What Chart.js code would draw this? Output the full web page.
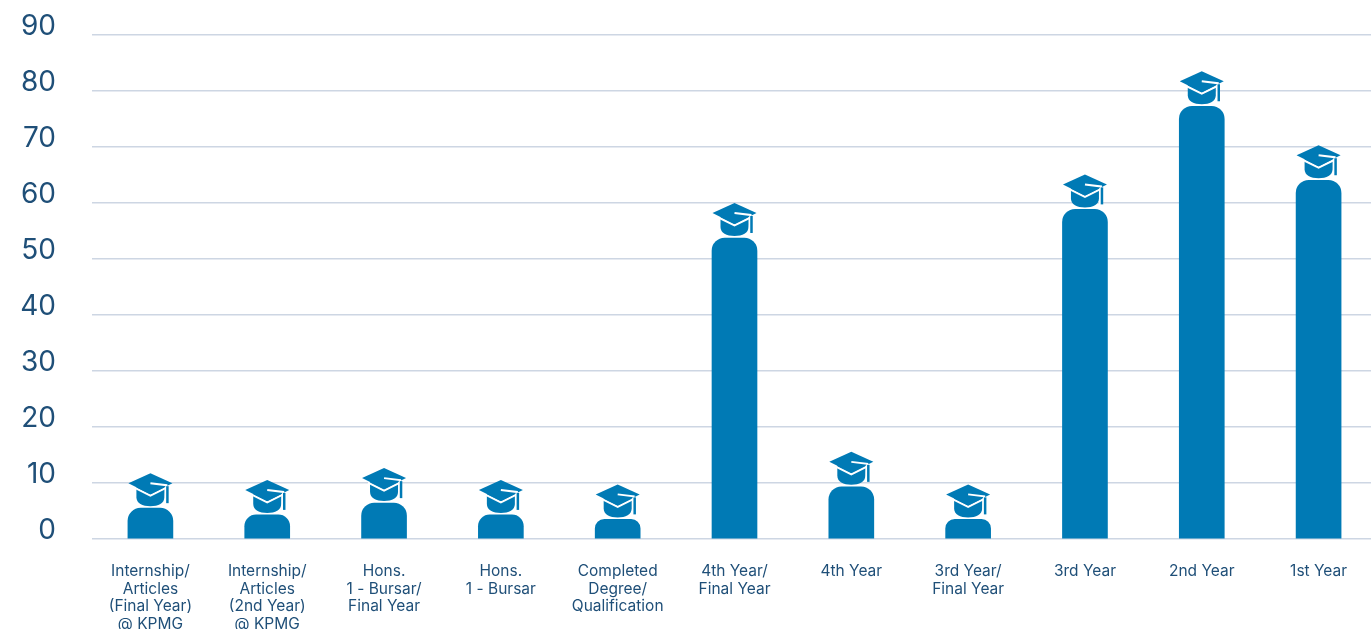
<!DOCTYPE html>
<html>
<head>
<meta charset="utf-8">
<style>
  html, body { margin: 0; padding: 0; background: #fff; overflow: hidden; }
  #wrap { position: relative; width: 1400px; height: 629px; }
</style>
<script src="https://cdn.jsdelivr.net/npm/chart.js@4"></script>
</head>
<body>
<div id="wrap"><canvas id="chart"></canvas></div>
<script>
const categories = [
  ['Internship/', 'Articles', '(Final Year)', '@ KPMG'],
  ['Internship/', 'Articles', '(2nd Year)', '@ KPMG'],
  ['Hons.', '1 - Bursar/', 'Final Year'],
  ['Hons.', '1 - Bursar'],
  ['Completed', 'Degree/', 'Qualification'],
  ['4th Year/', 'Final Year'],
  ['4th Year'],
  ['3rd Year/', 'Final Year'],
  ['3rd Year'],
  ['2nd Year'],
  ['1st Year']
];
const students = [5.5, 4.3, 6.4, 4.3, 3.5, 53.7, 9.3, 3.5, 58.8, 77.2, 64];

const BLUE = '#007ab5';
const TEXT = '#1f4f78';

// Graduation cap sitting above each bar
const capPlugin = {
  id: 'caps',
  afterDatasetsDraw(chart) {
    const c = chart.ctx;
    chart.getDatasetMeta(0).data.forEach(function(bar) {
      c.save();
      c.translate(bar.x, bar.y);

      // head under the cap
      c.fillStyle = BLUE;
      c.beginPath();
      c.moveTo(-14, -22);
      c.lineTo(-14, -11);
      c.bezierCurveTo(-14, -5, -8, -2, 0, -2);
      c.bezierCurveTo(8, -2, 14, -5, 14, -11);
      c.lineTo(14, -22);
      c.closePath();
      c.fill();

      // white edge between head and board
      c.strokeStyle = '#fff';
      c.lineWidth = 2;
      c.beginPath();
      c.moveTo(-16, -20.5);
      c.lineTo(0, -12.5);
      c.lineTo(16, -20.5);
      c.stroke();

      // board
      c.fillStyle = BLUE;
      c.beginPath();
      c.moveTo(0, -35);
      c.lineTo(22, -25);
      c.lineTo(0, -14);
      c.lineTo(-22, -25);
      c.closePath();
      c.fill();

      // cord across the board, then the tassel hanging past the head
      c.strokeStyle = '#fff';
      c.lineWidth = 2;
      c.beginPath();
      c.moveTo(0, -25);
      c.lineTo(16, -23);
      c.lineTo(15, -5);
      c.stroke();
      c.strokeStyle = BLUE;
      c.lineWidth = 2.5;
      c.beginPath();
      c.moveTo(17, -22);
      c.lineTo(17, -5);
      c.stroke();
      c.restore();
    });
  }
};

const ctx = document.getElementById('chart').getContext('2d');
new Chart(ctx, {
  type: 'bar',
  data: {
    labels: categories,
    datasets: [{
      data: students,
      backgroundColor: BLUE,
      barThickness: 45,
      borderRadius: { topLeft: 13, topRight: 13, bottomLeft: 0, bottomRight: 0 },
      borderSkipped: 'bottom'
    }]
  },
  plugins: [capPlugin],
  options: {
    responsive: true,
    maintainAspectRatio: false,
    animation: false,
    layout: { padding: { top: 34.5, right: 23, left: 0, bottom: 0 } },
    plugins: { legend: { display: false }, tooltip: { enabled: false } },
    scales: {
      x: {
        grid: { display: false },
        border: { display: false },
        afterFit(scale) { scale.height = 90; },
        ticks: {
          maxRotation: 0,
          autoSkip: false,
          padding: 16,
          color: TEXT,
          font: { family: 'Inter, "Noto Sans", sans-serif', size: 15.5, lineHeight: 1.13 }
        }
      },
      y: {
        min: 0,
        max: 90,
        afterFit(scale) {
          scale.width = 92;
          scale.paddingTop = 0;
          scale.paddingBottom = 0;
        },
        border: { display: false },
        grid: { color: '#cdd6e3', lineWidth: 1.5, drawTicks: false },
        ticks: {
          stepSize: 10,
          padding: 36,
          labelOffset: -8,
          color: TEXT,
          font: { family: 'Inter, "Noto Sans", sans-serif', size: 28 }
        }
      }
    }
  }
});
</script>
</body>
</html>
